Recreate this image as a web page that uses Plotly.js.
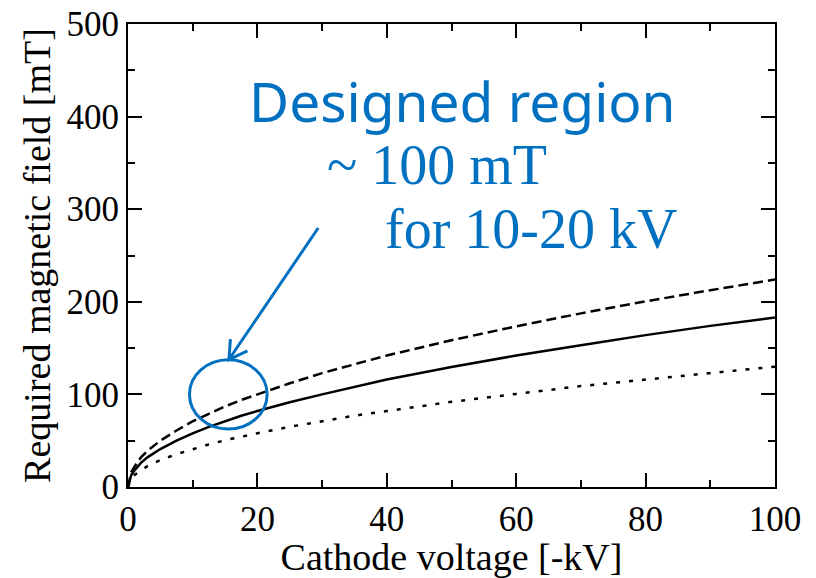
<!DOCTYPE html>
<html>
<head>
<meta charset="utf-8">
<script src="https://cdn.plot.ly/plotly-3.0.1.min.js"></script>
<style>html,body{margin:0;padding:0;background:#fff;}#chart{width:816px;height:578px;}</style>
</head>
<body>
<div id="chart"></div>
<script>
// Cathode voltage [-kV]
const voltage = [0, 0.5, 1, 2, 3, 4, 5, 7.5, 10, 12.5, 15, 17.5, 20, 25, 30, 35, 40, 50, 60, 70, 80, 90, 100];
// Required magnetic field [mT]
const fieldSolid  = [0, 13, 18, 26, 32, 37, 41, 50, 58, 65, 71, 77, 82, 91.5, 100, 108, 116, 129.5, 142, 153, 164, 174, 183];
const fieldDashed = [0, 16, 22, 32, 39, 45, 50, 61, 71, 79, 87, 94, 100, 112, 123, 132.5, 142, 158.5, 173.5, 187.5, 200.5, 212.5, 224];
const fieldDotted = [0, 9, 13, 18, 22.5, 26, 29, 35.5, 41, 46, 50.5, 54.5, 58, 65, 71, 77, 82, 92, 100.5, 109, 116, 123, 130];

const xTitle = "Cathode voltage [-kV]";
const yTitle = "Required magnetic field [mT]";
const noteLines = ["Designed region", "~ 100 mT", "for 10-20 kV"];

const blue = "#0070C0";
const serif = "Liberation Serif";

const traces = [
  {x: voltage, y: fieldDashed, mode: "lines", line: {color: "#000", width: 2.5, dash: "10px,5px"}},
  {x: voltage, y: fieldSolid,  mode: "lines", line: {color: "#000", width: 2.5}},
  {x: voltage, y: fieldDotted, mode: "lines", line: {color: "#000", width: 2.5, dash: "4px,9px"}}
];

const axisCommon = {
  showline: true, linecolor: "#000", linewidth: 2, mirror: "allticks",
  ticks: "inside", ticklen: 14, tickwidth: 2, tickcolor: "#000",
  showgrid: false, zeroline: false,
  tickfont: {family: serif, size: 35, color: "#000"}
};

const layout = {
  width: 816, height: 578,
  font: {family: serif, color: "#000"},
  margin: {l: 127.5, r: 41, t: 24, b: 91},
  paper_bgcolor: "#fff", plot_bgcolor: "#fff",
  showlegend: false,
  xaxis: Object.assign({}, axisCommon, {
    range: [0, 100], dtick: 20, tick0: 0,
    minor: {dtick: 10, ticks: "inside", ticklen: 7, tickwidth: 2, tickcolor: "#000"},
    title: {text: xTitle, font: {family: serif, size: 38, color: "#000"}, standoff: 6}
  }),
  yaxis: Object.assign({}, axisCommon, {
    range: [0, 500], dtick: 100, tick0: 0,
    minor: {dtick: 50, ticks: "inside", ticklen: 7, tickwidth: 2, tickcolor: "#000"},
    title: {text: yTitle, font: {family: serif, size: 38, color: "#000"}, standoff: 4}
  }),
  shapes: [
    {type: "circle", xref: "x", yref: "y", x0: 9.5, x1: 21.5, y0: 62.6, y1: 137.3,
     line: {color: blue, width: 3}},
    {type: "path", xref: "x", yref: "y",
     path: "M 29.4,279.7 L 15.6,137.7 M 15.83,159.8 L 15.6,137.7 L 18.46,146.9",
     line: {color: blue, width: 3}}
  ],
  annotations: [
    {xref: "paper", yref: "paper", x: (462 - 127.5) / 647.5, y: (487 - 101) / 463,
     text: noteLines[0], showarrow: false, xanchor: "center", yanchor: "middle",
     font: {family: "Noto Sans", size: 55, color: blue}},
    {xref: "paper", yref: "paper", x: (437 - 127.5) / 647.5, y: (487 - 165) / 463,
     text: noteLines[1], showarrow: false, xanchor: "center", yanchor: "middle",
     font: {family: serif, size: 56, color: blue}},
    {xref: "paper", yref: "paper", x: (531 - 127.5) / 647.5, y: (487 - 229) / 463,
     text: noteLines[2], showarrow: false, xanchor: "center", yanchor: "middle",
     font: {family: serif, size: 56, color: blue}}
  ]
};

Plotly.newPlot("chart", traces, layout, {displayModeBar: false, staticPlot: true});
</script>
</body>
</html>
